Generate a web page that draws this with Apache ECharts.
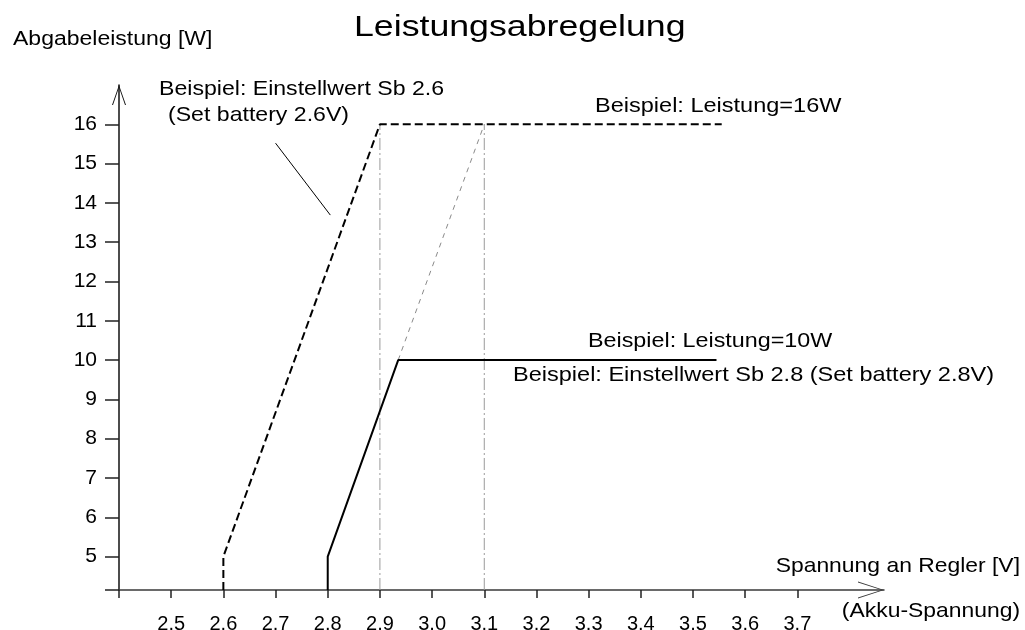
<!DOCTYPE html>
<html>
<head>
<meta charset="utf-8">
<script src="https://cdn.jsdelivr.net/npm/echarts@6/dist/echarts.min.js"></script>
<style>
  html, body { margin: 0; padding: 0; background: #fff; }
  #chart { width: 1025px; height: 630px; }
</style>
</head>
<body>
<div id="chart"></div>
<script>
// Werte
var xTicks = [2.4, 2.5, 2.6, 2.7, 2.8, 2.9, 3.0, 3.1, 3.2, 3.3, 3.4, 3.5, 3.6, 3.7];
var xLabels = [2.5, 2.6, 2.7, 2.8, 2.9, 3.0, 3.1, 3.2, 3.3, 3.4, 3.5, 3.6, 3.7];
var yTicks = [4.15, 5, 6, 7, 8, 9, 10, 11, 12, 13, 14, 15, 16];
var yLabels = [5, 6, 7, 8, 9, 10, 11, 12, 13, 14, 15, 16];

// Sb 2.6 (gestrichelt), Leistung 16W
var sb26Volt = [2.6, 2.6, 2.9, 3.555];
var sb26Watt = [4.15, 5, 16, 16];
// Sb 2.8 (durchgezogen), Leistung 10W
var sb28Volt = [2.8, 2.8, 2.935, 3.545];
var sb28Watt = [4.15, 5, 10, 10];
// duenne Verlaengerung der Rampe bis 16W
var rampVolt = [2.935, 3.1];
var rampWatt = [10, 16];
// senkrechte Hilfslinien
var guideVolt = [2.9, 3.1];
var guideWatt = [4.15, 16];
// Hinweislinie zur Beschriftung "Sb 2.6"
var leaderVolt = [2.70, 2.805];
var leaderWatt = [15.52, 13.69];

function pairs(xs, ys) {
  var out = [];
  for (var i = 0; i < xs.length; i++) out.push([xs[i], ys[i]]);
  return out;
}

var FONT = '"Liberation Sans", Arial, sans-serif';
// offene Pfeilspitze, zeigt nach oben (wird von ECharts entlang der Achse gedreht)
var ARROW = 'path://M0,20 L7,0 L14,20 L13,20 L7,2.5 L1,20 Z';

function label(text, x, y, size, sx, align) {
  return {
    type: 'text',
    x: x,
    y: y,
    scaleX: sx,
    style: {
      text: text,
      fill: '#000',
      fontSize: size,
      fontFamily: FONT,
      align: align || 'left',
      verticalAlign: 'middle'
    }
  };
}

var guideSeries = guideVolt.map(function (v) {
  return {
    type: 'line',
    symbol: 'none',
    silent: true,
    z: 1,
    data: pairs([v, v], guideWatt),
    lineStyle: { color: '#9a9a9a', width: 1, type: [12, 3, 2, 3] }
  };
});

var myChart = echarts.init(document.getElementById('chart'));
myChart.setOption({
  animation: false,
  backgroundColor: '#fff',
  grid: {
    left: 119,
    right: 141,
    top: 85,
    bottom: 40,
    containLabel: false,
    outerBoundsMode: 'none'
  },
  xAxis: {
    type: 'value',
    min: 2.4,
    max: 3.866,
    splitLine: { show: false },
    axisLine: {
      onZero: false,
      lineStyle: { color: '#3a3a3a', width: 1.5 },
      symbol: ['none', 'path://M0,26 L8.5,0 L17,26 L16,26 L8.5,2.5 L1,26 Z'],
      symbolSize: [17, 26],
      symbolOffset: [0, -13]
    },
    axisTick: {
      show: true,
      inside: false,
      length: 8,
      customValues: xTicks,
      lineStyle: { color: '#222', width: 1.5 }
    },
    axisLabel: {
      customValues: xLabels,
      margin: 24,
      fontSize: 20,
      fontFamily: FONT,
      color: '#000',
      formatter: function (v) { return v.toFixed(1); }
    }
  },
  yAxis: {
    type: 'value',
    min: 4.15,
    max: 17,
    splitLine: { show: false },
    axisLine: {
      onZero: false,
      lineStyle: { color: '#111', width: 1.5 },
      symbol: ['none', ARROW],
      symbolSize: [14, 20],
      symbolOffset: [0, -10]
    },
    axisTick: {
      show: true,
      inside: false,
      length: 14,
      customValues: yTicks,
      lineStyle: { color: '#222', width: 1.5 }
    },
    axisLabel: {
      customValues: yLabels,
      margin: 22,
      fontSize: 21,
      fontFamily: FONT,
      color: '#000'
    }
  },
  graphic: [
    label('Leistungsabregelung', 354, 28, 30, 1.19),
    label('Abgabeleistung [W]', 13, 39, 20, 1.15),
    label('Beispiel: Einstellwert Sb 2.6', 159, 89.5, 21, 1.1),
    label('(Set battery 2.6V)', 168, 115.5, 21, 1.1),
    label('Beispiel: Leistung=16W', 595, 106, 21, 1.12),
    label('Beispiel: Leistung=10W', 588, 341.5, 21, 1.11),
    label('Beispiel: Einstellwert Sb 2.8 (Set battery 2.8V)', 513, 375.7, 21, 1.12),
    label('Spannung an Regler [V]', 1020, 566, 21, 1.09, 'right'),
    label('(Akku-Spannung)', 1020, 611, 21, 1.09, 'right')
  ],
  series: guideSeries.concat([
    {
      type: 'line',
      symbol: 'none',
      silent: true,
      z: 2,
      data: pairs(rampVolt, rampWatt),
      lineStyle: { color: '#8a8a8a', width: 1, type: [5, 5] }
    },
    {
      name: 'Sb 2.6',
      type: 'line',
      symbol: 'none',
      z: 3,
      data: pairs(sb26Volt, sb26Watt),
      lineStyle: { color: '#000', width: 2, type: [8, 4] }
    },
    {
      name: 'Sb 2.8',
      type: 'line',
      symbol: 'none',
      z: 3,
      data: pairs(sb28Volt, sb28Watt),
      lineStyle: { color: '#000', width: 2 }
    },
    {
      type: 'line',
      symbol: 'none',
      silent: true,
      z: 3,
      data: pairs(leaderVolt, leaderWatt),
      lineStyle: { color: '#000', width: 1 }
    }
  ])
});
</script>
</body>
</html>
